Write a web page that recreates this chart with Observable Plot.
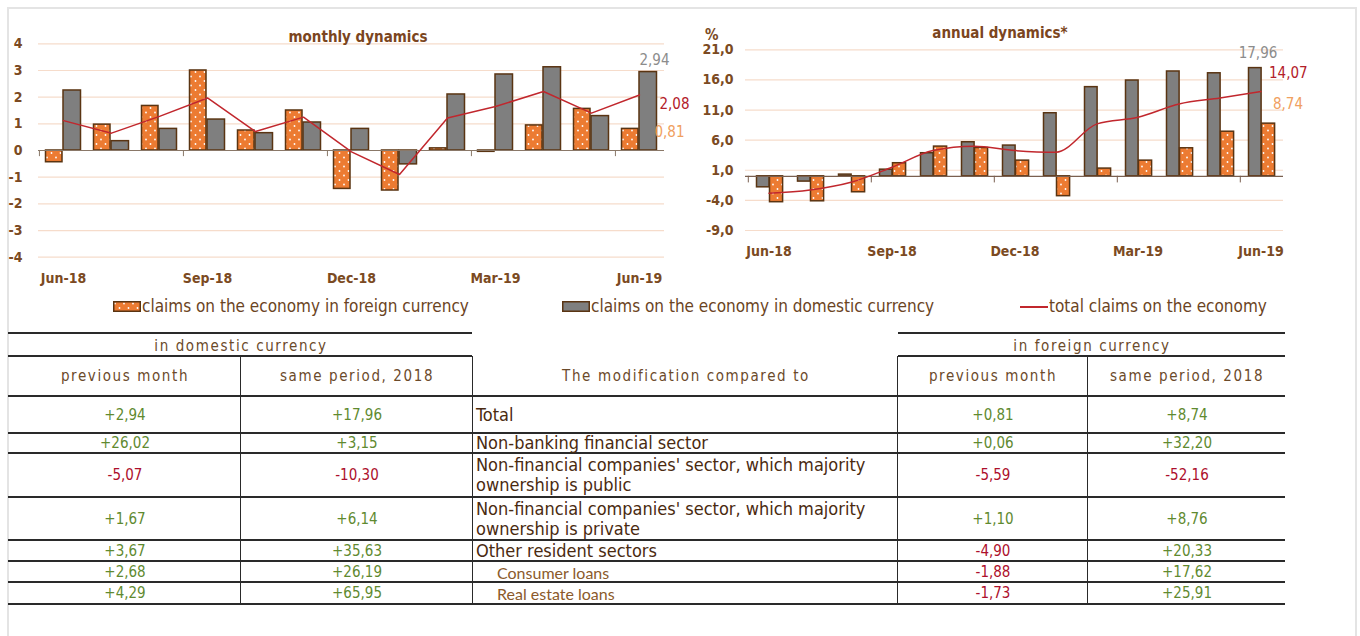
<!DOCTYPE html>
<html>
<head>
<meta charset="utf-8">
<script src="https://cdn.jsdelivr.net/npm/d3@7"></script>
<script src="https://cdn.jsdelivr.net/npm/@observablehq/plot@0.6"></script>
<style>
  html, body { margin: 0; padding: 0; background: #fff; }
  #root { position: relative; width: 1360px; height: 636px; overflow: hidden; background: #fff; }
  .abs { position: absolute; white-space: nowrap; }
  .narrow { font-family: "Liberation Sans Narrow", "DejaVu Sans Condensed", "DejaVu Sans", sans-serif; }
  .cond { font-family: "DejaVu Sans Condensed", "DejaVu Sans", sans-serif; font-stretch: condensed; }
  .title { font-weight: bold; font-size: 15px; color: #7b4520; transform: translate(-50%, -50%); }
  .leg { font-size: 17px; color: #6b4423; transform: translateY(-50%); }
  .hdr { font-size: 15px; color: #6b4a2a; letter-spacing: 1.6px; transform: translate(-50%, -50%); }
  .val { font-size: 15px; transform: translate(-50%, -50%); }
  .lbl { font-size: 18px; color: #4a2a10; transform: translateY(-50%); line-height: 20px; white-space: pre; }
  .sub { font-family: Lato, "Open Sans", sans-serif; font-size: 16px; color: #8b5a2b; transform: translateY(-50%); }
  .hl { position: absolute; height: 0; border-top: 2px solid #2a2a2a; }
  .vl { position: absolute; width: 0; border-left: 1.5px solid #2a2a2a; }
</style>
</head>
<body>
<div id="root">
  <svg width="0" height="0" style="position:absolute">
    <defs>
      <pattern id="dots" width="9" height="9" patternUnits="userSpaceOnUse">
        <rect width="9" height="9" fill="#ec7b32"></rect>
        <circle cx="2" cy="2.5" r="0.9" fill="#fff"></circle>
        <circle cx="6.5" cy="7" r="0.9" fill="#fff"></circle>
      </pattern>
    </defs>
  </svg>
  <div class="abs" style="left:7px;top:7px;width:1346px;height:700px;border:2px solid #e4e4e4;"></div>
</div>
<script>
// ---------------- data ----------------
const months = ["Jun-18","Jul-18","Aug-18","Sep-18","Oct-18","Nov-18","Dec-18","Jan-19","Feb-19","Mar-19","Apr-19","May-19","Jun-19"];
const tickMonths = ["Jun-18","Sep-18","Dec-18","Mar-19","Jun-19"];
const monthlyForeign  = [-0.44, 0.97, 1.67, 3.00, 0.75, 1.50, -1.44, -1.50, 0.08, -0.05, 0.94, 1.56, 0.81];
const monthlyDomestic = [2.25, 0.35, 0.81, 1.16, 0.65, 1.05, 0.81, -0.52, 2.10, 2.85, 3.12, 1.29, 2.94];
const monthlyTotal    = [1.12, 0.65, 1.28, 1.97, 0.71, 1.25, -0.05, -0.90, 1.22, 1.65, 2.21, 1.40, 2.08];
const annualForeign   = [-4.30, -4.15, -2.65, 2.17, 4.93, 4.70, 2.60, -3.30, 1.28, 2.60, 4.65, 7.40, 8.74];
const annualDomestic  = [-1.83, -0.88, 0.28, 1.10, 3.83, 5.65, 5.10, 10.47, 14.80, 15.90, 17.40, 17.10, 17.96];
const annualTotal     = [-2.80, -2.27, -1.00, 1.50, 4.27, 5.00, 4.27, 4.00, 8.70, 9.80, 12.00, 13.00, 14.07];
const monthlyTicks = [-4, -3, -2, -1, 0, 1, 2, 3, 4];
const annualTicks  = [-9, -4, 1, 6, 11, 16, 21];
const seriesNames = ["claims on the economy in foreign currency", "claims on the economy in domestic currency", "total claims on the economy"];

const tableHeaderGroups = ["in domestic currency", "in foreign currency"];
const tableColumns = ["previous month", "same period, 2018", "The modification compared to", "previous month", "same period, 2018"];
const rowLabels = ["Total", "Non-banking financial sector",
  "Non-financial companies' sector, which majority\nownership is public",
  "Non-financial companies' sector, which majority\nownership is private",
  "Other resident sectors", "Consumer loans", "Real estate loans"];
const domPrevMonth = [2.94, 26.02, -5.07, 1.67, 3.67, 2.68, 4.29];
const domSamePeriod = [17.96, 3.15, -10.30, 6.14, 35.63, 26.19, 65.95];
const forPrevMonth = [0.81, 0.06, -5.59, 1.10, -4.90, -1.88, -1.73];
const forSamePeriod = [8.74, 32.20, -52.16, 8.76, 20.33, 17.62, 25.91];

// ---------------- helpers ----------------
const root = document.getElementById("root");
const ORANGE = "url(#dots)", GRAY = "#7f7f7f", EDGE = "#5a3412", RED = "#c1272d";
const fmt2 = v => v.toFixed(2).replace(".", ",");
const fmtSigned = v => (v >= 0 ? "+" : "-") + Math.abs(v).toFixed(2).replace(".", ",");
function add(html, style, cls) {
  const d = document.createElement("div");
  d.className = "abs " + (cls || "");
  Object.assign(d.style, style);
  d.innerHTML = html;
  root.appendChild(d);
  return d;
}
const axisFont = {fontFamily: "'Liberation Sans Narrow', 'DejaVu Sans Condensed', sans-serif", fontSize: "14px", fontWeight: "bold", color: "#7b4a22"};

// ---------------- monthly chart ----------------
{
  const W = 690, H = 270, ml = 38, mr = 26, mt = 23.3, mb = 33.3;
  const bw = (W - ml - mr) / months.length;
  const rows = months.map((m, i) => ({m, f: monthlyForeign[i], d: monthlyDomestic[i], t: monthlyTotal[i]}));
  const last = rows[rows.length - 1];
  const svg = Plot.plot({
    width: W, height: H, marginLeft: ml, marginRight: mr, marginTop: mt, marginBottom: mb,
    style: {background: "transparent", overflow: "visible", ...axisFont},
    x: {type: "band", domain: months, padding: 0, label: null},
    y: {domain: [-4, 4], label: null},
    marks: [
      Plot.gridY(monthlyTicks, {stroke: "#f6dccb", strokeOpacity: 1, strokeWidth: 1.2}),
      Plot.barY(rows, {x: "m", y: "f", fill: ORANGE, stroke: EDGE, strokeWidth: 1.5, insetLeft: 6.5, insetRight: 25}),
      Plot.barY(rows, {x: "m", y: "d", fill: GRAY, stroke: EDGE, strokeWidth: 1.5, insetLeft: 24, insetRight: 6.5}),
      Plot.ruleY([0], {stroke: "#8a7868", strokeWidth: 1.2}),
      Plot.ruleX(tickMonths, {x: d => d, y1: 0, y2: -0.23, dx: -bw / 2, stroke: "#8a7868"}),
      Plot.line(rows, {x: "m", y: "t", stroke: RED, strokeWidth: 1.5}),
      Plot.text([last], {x: "m", y: "d", text: d => fmt2(d.d), fill: "#8c8c8c", fontSize: 15, dx: 15, dy: -12, fontWeight: "normal"}),
      Plot.text([last], {x: "m", y: "t", text: d => fmt2(d.t), fill: "#b3202a", fontSize: 15, dx: 20, dy: 9, textAnchor: "start", fontWeight: "normal"}),
      Plot.text([last], {x: "m", y: "f", text: d => fmt2(d.f), fill: "#f0a060", fontSize: 15, dx: 15, dy: 3, textAnchor: "start", fontWeight: "normal"}),
      Plot.axisY({ticks: monthlyTicks, tickSize: 0, tickPadding: 16, tickFormat: d => String(d), fill: "#7b4a22"}),
      Plot.axisX({ticks: tickMonths, tickSize: 0, tickPadding: 16, fill: "#7b4a22"})
    ]
  });
  svg.style.position = "absolute"; svg.style.left = "0px"; svg.style.top = "20px";
  root.appendChild(svg);
  add("monthly dynamics", {left: "358px", top: "37px"}, "title narrow");
}

// ---------------- annual chart ----------------
{
  const W = 640, H = 250, ml = 55, mr = 47, mt = 29.3, mb = 40;
  const bw = (W - ml - mr) / months.length;
  const rows = months.map((m, i) => ({m, f: annualForeign[i], d: annualDomestic[i], t: annualTotal[i]}));
  const last = rows[rows.length - 1];
  const svg = Plot.plot({
    width: W, height: H, marginLeft: ml, marginRight: mr, marginTop: mt, marginBottom: mb,
    style: {background: "transparent", overflow: "visible", ...axisFont},
    x: {type: "band", domain: months, padding: 0, label: null},
    y: {domain: [-9, 21], label: null},
    marks: [
      Plot.gridY(annualTicks, {stroke: "#f6dccb", strokeOpacity: 1, strokeWidth: 1.2}),
      Plot.barY(rows, {x: "m", y: "d", fill: GRAY, stroke: EDGE, strokeWidth: 1.5, insetLeft: 8.5, insetRight: 19.9}),
      Plot.barY(rows, {x: "m", y: "f", fill: ORANGE, stroke: EDGE, strokeWidth: 1.5, insetLeft: 21.5, insetRight: 6.4}),
      Plot.ruleY([0], {stroke: "#7a6050", strokeWidth: 1.2}),
      Plot.ruleX(tickMonths, {x: d => d, y1: 0, y2: -1.1, dx: -bw / 2, stroke: "#7a6050"}),
      Plot.line(rows, {x: "m", y: "t", stroke: RED, strokeWidth: 1.5, curve: "monotone-x"}),
      Plot.text([last], {x: "m", y: "d", text: d => fmt2(d.d), fill: "#8c8c8c", fontSize: 15, dx: -3, dy: -14.5, fontWeight: "normal"}),
      Plot.text([last], {x: "m", y: "t", text: d => fmt2(d.t), fill: "#b3202a", fontSize: 15, dx: 8, dy: -18, textAnchor: "start", fontWeight: "normal"}),
      Plot.text([last], {x: "m", y: "f", text: d => fmt2(d.f), fill: "#f0a060", fontSize: 15, dx: 12, dy: -19, textAnchor: "start", fontWeight: "normal"}),
      Plot.axisY({ticks: annualTicks, tickSize: 0, tickPadding: 12, tickFormat: d => d.toFixed(1).replace(".", ","), fill: "#7b4a22"}),
      Plot.axisX({ticks: tickMonths, tickSize: 0, tickPadding: 16, fill: "#7b4a22"})
    ]
  });
  svg.style.position = "absolute"; svg.style.left = "690px"; svg.style.top = "20px";
  root.appendChild(svg);
  add("annual dynamics*", {left: "1000px", top: "33px"}, "title narrow");
  add("%", {left: "705px", top: "26px", fontWeight: "bold", fontSize: "15px", color: "#7b4a22"}, "narrow");
}

// ---------------- legend ----------------
{
  const y = 306;
  add(`<svg width="28" height="11"><rect x="0.75" y="0.75" width="26.5" height="9.5" fill="${ORANGE}" stroke="${EDGE}" stroke-width="1.5"/></svg>`, {left: "113px", top: (y - 5.5) + "px", lineHeight: "0"});
  add(seriesNames[0], {left: "142px", top: y + "px"}, "leg narrow");
  add(`<svg width="28" height="11"><rect x="0.75" y="0.75" width="26.5" height="9.5" fill="${GRAY}" stroke="${EDGE}" stroke-width="1.5"/></svg>`, {left: "562px", top: (y - 5.5) + "px", lineHeight: "0"});
  add(seriesNames[1], {left: "591px", top: y + "px"}, "leg narrow");
  add(`<svg width="28" height="4"><line x1="0" x2="28" y1="2" y2="2" stroke="${RED}" stroke-width="2"/></svg>`, {left: "1020px", top: (y - 2) + "px", lineHeight: "0"});
  add(seriesNames[2], {left: "1049px", top: y + "px"}, "leg narrow");
}

// ---------------- table ----------------
{
  const L = 8, R = 1285;
  const colX = [241, 473, 898, 1088];
  const rowY = [396, 433, 453, 497, 540, 561, 582, 604];
  const hl = (x1, x2, y, w) => add("", {left: x1 + "px", width: (x2 - x1) + "px", top: (y - 1) + "px", borderTopWidth: (w || 2) + "px"}, "hl");
  const vl = (x, y1, y2) => add("", {left: (x - 0.75) + "px", top: y1 + "px", height: (y2 - y1) + "px"}, "vl");
  hl(L, 472, 333); hl(898, R, 333);
  hl(L, 472, 356); hl(898, R, 356);
  rowY.forEach(y => hl(L, R, y));
  colX.forEach(x => vl(x, 356, 604));
  add(tableHeaderGroups[0], {left: "241px", top: "346px"}, "hdr narrow");
  add(tableHeaderGroups[1], {left: "1092px", top: "346px"}, "hdr narrow");
  const colCenters = [125, 357, 686, 993, 1187];
  tableColumns.forEach((t, i) => add(t, {left: colCenters[i] + "px", top: "376px"}, "hdr narrow"));
  const green = "#5f8a30", red = "#ad0f2c";
  const cols = [domPrevMonth, domSamePeriod, forPrevMonth, forSamePeriod];
  const valX = [125, 357, 993, 1187];
  rowLabels.forEach((lab, r) => {
    const cy = (rowY[r] + rowY[r + 1]) / 2;
    cols.forEach((arr, c) => {
      const v = arr[r];
      add(fmtSigned(v), {left: valX[c] + "px", top: cy + "px", color: v < 0 ? red : green}, "val narrow");
    });
    if (r >= 5) add(lab, {left: "497px", top: cy + "px"}, "sub");
    else add(lab, {left: "476px", top: cy + "px"}, "lbl cond");
  });
}
</script>
</body>
</html>
